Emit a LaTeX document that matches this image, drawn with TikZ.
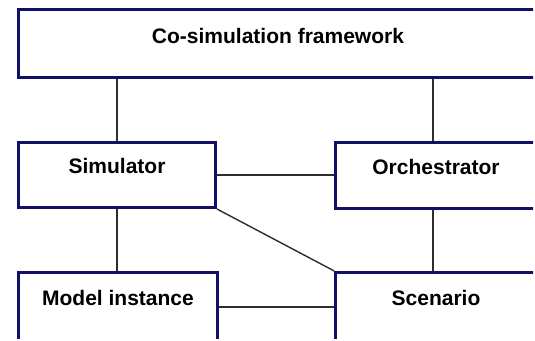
\documentclass[tikz,border=0pt]{standalone}
\usepackage{fontspec}
\setmainfont{Liberation Sans}
\usetikzlibrary{positioning}
\definecolor{boxnavy}{RGB}{16,16,104}
\definecolor{linkgray}{RGB}{45,45,45}

\begin{document}
\begin{tikzpicture}[x=1pt, y=-1pt, font=\fontsize{21}{25}\selectfont\bfseries,
    block/.style={draw=boxnavy, line width=2.6pt, fill=white,
                  minimum width=199pt, minimum height=66pt,
                  text height=15pt, text depth=18pt, inner sep=0pt},
    link/.style={draw=linkgray, line width=1.4pt}]
  \useasboundingbox (0,0) rectangle (535,340);
  \fill[white] (0,0) rectangle (535,340);
  \clip (0,0) rectangle (533,338.5);
  % boxes
  \node[block, minimum width=519pt, minimum height=68.5pt, text depth=15pt] (fw) at (278, 43.5) {Co-simulation framework};
  \node[block, minimum width=197.5pt, minimum height=65.5pt] (sim) at (117, 175) {Simulator};
  \node[block, minimum width=201pt] (orch) at (436, 175.5) {Orchestrator};
  \node[block, minimum height=69.5pt] (model) at (118, 307) {Model instance};
  \node[block, minimum width=201pt, minimum height=69.5pt] (scen) at (436, 307) {Scenario};
  % links
  \draw[link] (sim.north) -- (sim.north |- fw.south);
  \draw[link] ([xshift=-3pt]orch.north) -- ([xshift=-3pt]orch.north |- fw.south);
  \draw[link] (sim.east) -- (sim.east -| orch.west);
  \draw[link] (sim.south) -- (sim.south |- model.north);
  \draw[link] ([xshift=-3pt]orch.south) -- ([xshift=-3pt]orch.south |- scen.north);
  \draw[link] (sim.south east) -- (scen.north west);
  \draw[link] (model.east) -- (model.east -| scen.west);
\end{tikzpicture}
\end{document}
